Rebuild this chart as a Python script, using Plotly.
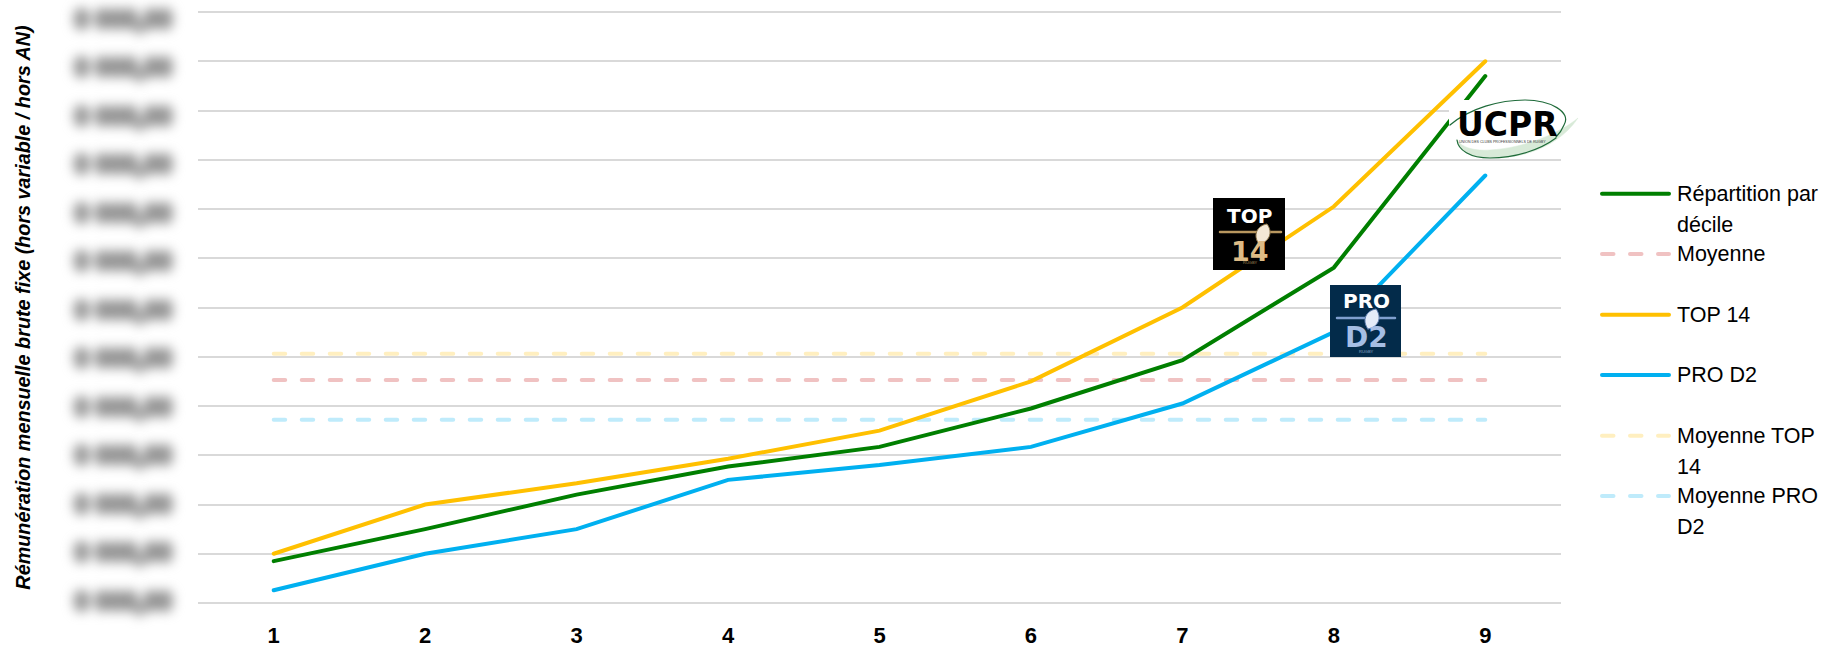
import plotly.graph_objects as go

# Values are read in gridline units: the original y tick labels are blurred and unreadable.
deciles = [1, 2, 3, 4, 5, 6, 7, 8, 9]
repartition = [0.85, 1.5, 2.2, 2.77, 3.17, 3.95, 4.93, 6.81, 10.7]
top14 = [1.0, 2.0, 2.43, 2.93, 3.5, 4.5, 6.0, 8.05, 11.0]
prod2 = [0.26, 1.0, 1.5, 2.5, 2.8, 3.17, 4.05, 5.5, 8.68]
moyenne = [4.53] * 9
moyenne_top14 = [5.06] * 9
moyenne_prod2 = [3.72] * 9
y_ticks = list(range(13))
y_tick_labels = ["0 000,00"] * 13   # placeholder text, rendered blurred as in the source

GREEN, YELLOW, BLUE = "#007F00", "#FFC000", "#00B0F0"
PINK_L, YELLOW_L, BLUE_L = "#F0C2C2", "#FFEFC0", "#BFEBFB"
DASH = "11.5px,16.5px"
FONT = "Liberation Sans"

W, H = 1825, 648
L, R, T, B = 198, 1561, 10, 605
PAD = 2 / 49.25   # range overhang so the first and last gridlines are kept
fx = lambda x: (x - L) / (R - L)
fy = lambda y: (B - y) / (B - T)

fig = go.Figure()
series = [
    ("Moyenne TOP 14", moyenne_top14, YELLOW_L, DASH),
    ("Moyenne", moyenne, PINK_L, DASH),
    ("Moyenne PRO D2", moyenne_prod2, BLUE_L, DASH),
    ("PRO D2", prod2, BLUE, "solid"),
    ("TOP 14", top14, YELLOW, "solid"),
    ("Répartition par décile", repartition, GREEN, "solid"),
]
for name, vals, col, dash in series:
    fig.add_trace(go.Scatter(x=deciles, y=vals, name=name, mode="lines",
                             line=dict(color=col, width=4, dash=dash), showlegend=False))
# carrier for the label axis, whose tick labels sit slightly tighter than the gridlines in the source
fig.add_trace(go.Scatter(x=[deciles[0]], y=[y_ticks[0]], yaxis="y2", mode="markers", opacity=0,
                         hoverinfo="skip", showlegend=False))

shapes, annos = [], []

def text(x, y, s, size, color="#000000", bold=False, family=FONT, xanchor="left"):
    annos.append(dict(xref="paper", yref="paper", x=fx(x), y=fy(y), text=f"<b>{s}</b>" if bold else s,
                      showarrow=False, xanchor=xanchor, yanchor="middle",
                      font=dict(family=family, size=size, color=color), borderpad=0, borderwidth=0))

def rect(x0, y0, x1, y1, fill):
    shapes.append(dict(type="rect", xref="paper", yref="paper", x0=fx(x0), x1=fx(x1), y0=fy(y1), y1=fy(y0),
                       fillcolor=fill, line_width=0, layer="above"))

def hline(x0, x1, y, color, width=2, dash="solid"):
    shapes.append(dict(type="line", xref="paper", yref="paper", x0=fx(x0), x1=fx(x1), y0=fy(y), y1=fy(y),
                       line=dict(color=color, width=width, dash=dash), layer="above"))

def path(cmds, fill=None, line=None, width=1):
    d = ""
    for c in cmds:
        d += c[0] + " ".join(f"{fx(c[i]):.5f},{fy(c[i+1]):.5f}" for i in range(1, len(c), 2)) + " "
    shapes.append(dict(type="path", xref="paper", yref="paper", path=d + ("Z" if fill else ""),
                       fillcolor=fill or "rgba(0,0,0,0)",
                       line=dict(color=line or "rgba(0,0,0,0)", width=width), layer="above"))

def ball(cx, cy, fill, edge):
    path([("M", cx - 4, cy + 10), ("C", cx - 10.4, cy + 1.7, cx - 6.4, cy - 8.3, cx + 4, cy - 10),
          ("C", cx + 10.4, cy - 1.7, cx + 6.4, cy + 8.3, cx - 4, cy + 10)], fill=fill, line=edge, width=1)

# legend, drawn line by line to keep the source's wrapped spacing
legend_rows = [
    (193.7, GREEN, "solid", ["Répartition par", "décile"]),
    (254, PINK_L, DASH, ["Moyenne"]),
    (314.7, YELLOW, "solid", ["TOP 14"]),
    (375, BLUE, "solid", ["PRO D2"]),
    (435.7, YELLOW_L, DASH, ["Moyenne TOP", "14"]),
    (496, BLUE_L, DASH, ["Moyenne PRO", "D2"]),
]
for y, col, dash, lines in legend_rows:
    hline(1602, 1669, y, col, 4, dash)
    for i, s in enumerate(lines):
        text(1677, y + i * 31, s, 21.5)

# TOP 14 badge
rect(1213, 198, 1285, 270, "#000000")
text(1249, 215.5, "TOP", 20, "#FFFFFF", True, "DejaVu Sans", "center")
hline(1220, 1281, 232, "#B8975F", 2.5)
ball(1263, 234, "#F3E8D6", "#8C7448")
text(1250, 251, "14", 27, "#DDBB85", True, "DejaVu Sans", "center")
text(1250, 262, "RUGBY", 4, "#A08858", False, FONT, "center")

# PRO D2 badge
rect(1330, 285, 1401, 357, "#032B4A")
text(1366, 301, "PRO", 20, "#FFFFFF", True, "DejaVu Sans", "center")
hline(1337, 1395, 318, "#7F9FCF", 2.5)
ball(1372, 319, "#E4ECF8", "#5F7FAF")
text(1366, 337, "D2", 28, "#A5BEE4", True, "DejaVu Sans", "center")
text(1366, 351, "RUGBY", 4, "#8FA6C8", False, FONT, "center")

# UCPR badge
rect(1449, 100, 1580, 158, "#FFFFFF")
path([("M", 1457, 140), ("C", 1458, 150, 1470, 158, 1490, 158), ("C", 1525, 159, 1560, 145, 1578, 118),
      ("C", 1560, 133, 1525, 148, 1490, 150), ("C", 1475, 151, 1462, 148, 1457, 140)],
     fill="#D8EAD8", line="#D8EAD8", width=0.5)
path([("M", 1457, 140), ("C", 1458, 150, 1470, 158, 1490, 158), ("C", 1515, 158, 1540, 150, 1556, 138)],
     line="#1F6B3A", width=1.2)
path([("M", 1450, 125), ("C", 1470, 108, 1500, 100, 1525, 100), ("C", 1550, 100, 1572, 112, 1564, 125),
      ("C", 1562, 130, 1559, 134, 1556, 137)], line="#1F6B3A", width=1.2)
text(1507.5, 125, "UCPR", 33, "#000000", True, "DejaVu Sans", "center")
text(1502, 142, "UNION DES CLUBS PROFESSIONNELS DE RUGBY", 3.6, "#333333", False, FONT, "center")

fig.update_layout(
    width=W, height=H, autosize=False,
    margin=dict(l=L, r=W - R, t=T, b=H - B, pad=0, autoexpand=False),
    paper_bgcolor="#FFFFFF", plot_bgcolor="#FFFFFF",
    font=dict(family=FONT, color="#000000"),
    shapes=shapes, annotations=annos, showlegend=False,
    xaxis=dict(range=[0.5, 9.5], tickmode="array", tickvals=deciles, ticktext=[str(d) for d in deciles],
               showgrid=False, zeroline=False, showline=False, ticks="outside", ticklen=11, automargin=False,
               tickcolor="rgba(0,0,0,0)", tickfont=dict(family=FONT, size=22, color="#000000", weight="bold")),
    yaxis=dict(range=[-PAD, 12 + PAD], tickmode="array", tickvals=y_ticks, showticklabels=False,
               showgrid=True, gridcolor="#D9D9D9", gridwidth=2, zeroline=False, showline=False, automargin=False),
    yaxis2=dict(overlaying="y", side="left", range=[-0.0825, 12.186], tickmode="array",
                tickvals=y_ticks, ticktext=y_tick_labels,
                showgrid=False, zeroline=False, showline=False, automargin=False,
                ticks="outside", ticklen=20, tickcolor="rgba(0,0,0,0)",
                tickfont=dict(family=FONT, size=25, color="#909090", weight="bold"),
                title=dict(text="<b><i>Rémunération mensuelle brute fixe (hors variable / hors AN)</i></b>",
                           font=dict(family=FONT, size=19.8, color="#000000"), standoff=38)),
)

post = """
var s = document.createElement('style');
s.textContent = 'body{margin:0;overflow:hidden} .y2tick text{stroke:#909090;stroke-width:4px;filter:blur(6px)} .scatterlayer path, .shapelayer path{stroke-linecap:round}';
document.head.appendChild(s);
"""
fig.write_html("out.html", post_script=post, config={"displayModeBar": False})
